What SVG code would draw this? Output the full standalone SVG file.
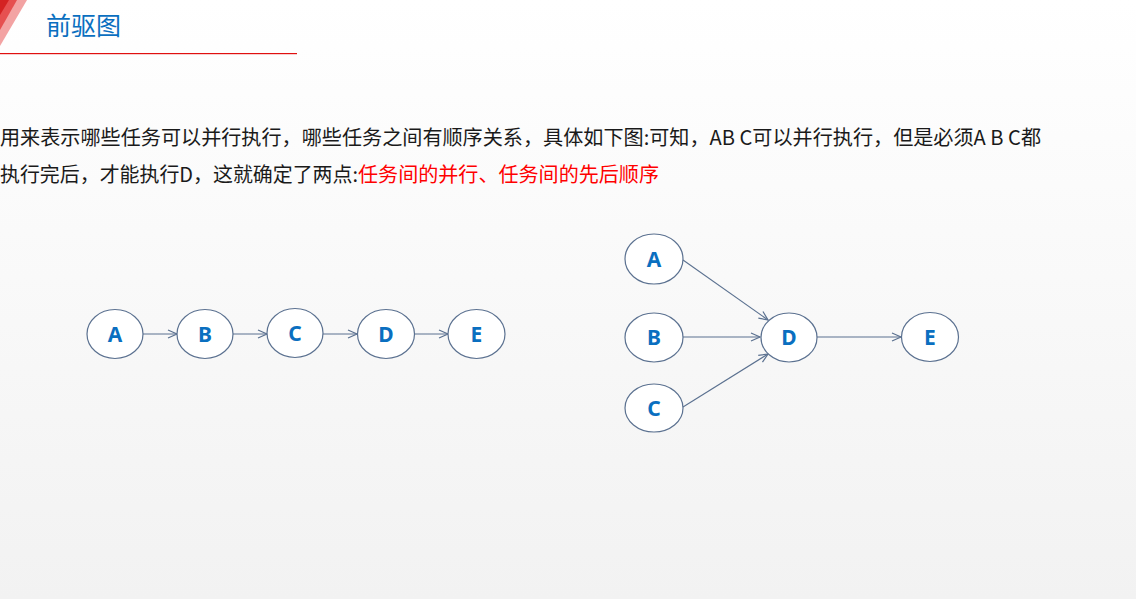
<svg xmlns="http://www.w3.org/2000/svg" width="1136" height="599" viewBox="0 0 1136 599">
<defs>
<linearGradient id="bg" x1="0" y1="0" x2="0" y2="1">
<stop offset="0" stop-color="#ffffff"/>
<stop offset="1" stop-color="#f2f2f2"/>
</linearGradient>
<marker id="arr" markerWidth="12" markerHeight="12" refX="10" refY="5" orient="auto" markerUnits="userSpaceOnUse">
<path d="M1,1 L10,5 L1,9" fill="none" stroke="#5b7190" stroke-width="1.2"/>
</marker>
<style>
.node ellipse{fill:#ffffff;stroke:#5b7190;stroke-width:1.2}
.node text{font-family:"Noto Sans","Open Sans",sans-serif;font-weight:bold;font-size:21px;fill:#0a6fc0;text-anchor:middle}
.edge{stroke:#5b7190;stroke-width:1.1;fill:none;marker-end:url(#arr)}
.body{font-family:"Noto Sans CJK SC","Noto Sans",sans-serif;font-size:20px;fill:#1a1a1a}
</style>
</defs>
<rect x="0" y="0" width="1136" height="599" fill="url(#bg)"/>
<g id="header">
<polygon points="0,0 27,0 0,46" fill="#f3a3a3"/>
<polygon points="0,0 17,0 0,30" fill="#e65050"/>
<polygon points="0,0 9,0 0,15" fill="#d42222"/>
<text x="46" y="35" font-family="Noto Sans CJK SC, Noto Sans, sans-serif" font-size="25" fill="#0a6fc0">前驱图</text>
<rect x="0" y="53" width="297" height="1.2" fill="#e01010"/>
</g>
<g id="description">
<text class="body" x="0" y="145" textLength="1041" lengthAdjust="spacingAndGlyphs">用来表示哪些任务可以并行执行，哪些任务之间有顺序关系，具体如下图:可知，AB C可以并行执行，但是必须A B C都</text>
<text class="body" x="0" y="182" textLength="358" lengthAdjust="spacingAndGlyphs">执行完后，才能执行D，这就确定了两点:</text>
<text class="body" x="358" y="182" style="fill:#ff0000" textLength="301" lengthAdjust="spacingAndGlyphs">任务间的并行、任务间的先后顺序</text>
</g>
<g id="connectors">
<line class="edge" x1="143" y1="334" x2="177" y2="334"/>
<line class="edge" x1="233" y1="334" x2="267" y2="334"/>
<line class="edge" x1="323" y1="334" x2="357" y2="334"/>
<line class="edge" x1="414" y1="334" x2="448" y2="334"/>
<line class="edge" x1="683" y1="260" x2="768" y2="320"/>
<line class="edge" x1="683" y1="337" x2="760" y2="337"/>
<line class="edge" x1="683" y1="407" x2="768" y2="354"/>
<line class="edge" x1="817" y1="337" x2="901" y2="337"/>
</g>
<g id="L_A" class="node"><ellipse cx="115" cy="334" rx="28" ry="24.5"/><text x="115" y="341.5">A</text></g>
<g id="L_B" class="node"><ellipse cx="205" cy="334" rx="28" ry="24.5"/><text x="205" y="341.5">B</text></g>
<g id="L_C" class="node"><ellipse cx="295" cy="333" rx="28" ry="24.5"/><text x="295" y="340.5">C</text></g>
<g id="L_D" class="node"><ellipse cx="386" cy="334" rx="28.5" ry="24.5"/><text x="386" y="341.5">D</text></g>
<g id="L_E" class="node"><ellipse cx="476.5" cy="334" rx="28.5" ry="24.5"/><text x="476.5" y="341.5">E</text></g>
<g id="R_A" class="node"><ellipse cx="654" cy="259" rx="29" ry="25"/><text x="654" y="266.5">A</text></g>
<g id="R_B" class="node"><ellipse cx="654" cy="337.5" rx="29" ry="24.5"/><text x="654" y="345">B</text></g>
<g id="R_C" class="node"><ellipse cx="654" cy="408" rx="29" ry="24"/><text x="654" y="415.5">C</text></g>
<g id="R_D" class="node"><ellipse cx="789" cy="337.5" rx="28" ry="24.5"/><text x="789" y="345">D</text></g>
<g id="R_E" class="node"><ellipse cx="930" cy="337" rx="28.5" ry="24.5"/><text x="930" y="344.5">E</text></g>
</svg>
